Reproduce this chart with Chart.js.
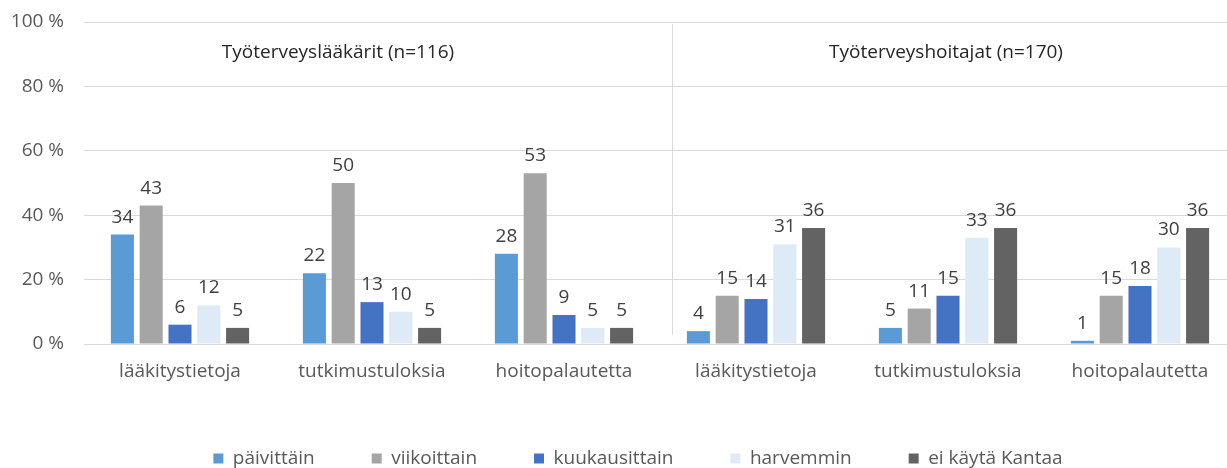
<!DOCTYPE html>
<html>
<head>
<meta charset="utf-8">
<script src="https://cdn.jsdelivr.net/npm/chart.js@4"></script>
<style>
  html, body { margin: 0; padding: 0; overflow: hidden; background: #fff; }
  #wrap { width: 1236px; height: 478px; position: relative; }
</style>
</head>
<body>
<div id="wrap"><canvas id="chart"></canvas></div>
<script>
// categories: three info types, repeated for doctors and nurses
const categories = ['lääkitystietoja', 'tutkimustuloksia', 'hoitopalautetta',
                    'lääkitystietoja', 'tutkimustuloksia', 'hoitopalautetta']
const seriesNames = ['päivittäin', 'viikoittain', 'kuukausittain', 'harvemmin', 'ei käytä Kantaa']
const seriesColors = ['#5B9BD5', '#A5A5A5', '#4472C4', '#DEEBF7', '#636363']

const paivittain    = [34, 22, 28, 4, 5, 1]
const viikoittain   = [43, 50, 53, 15, 11, 15]
const kuukausittain = [6, 13, 9, 14, 15, 18]
const harvemmin     = [12, 10, 5, 31, 33, 30]
const eiKayta       = [5, 5, 5, 36, 36, 36]

const groupTitles = ['Työterveyslääkärit (n=116)', 'Työterveyshoitajat (n=170)']
const yTicks = [0, 20, 40, 60, 80, 100]

const FONT = '"Open Sans", sans-serif'
const TEXT = '#595959'

const seriesValues = [paivittain, viikoittain, kuukausittain, harvemmin, eiKayta]

// numbers above each bar
const barLabels = {
  id: 'barLabels',
  afterDatasetsDraw(chart) {
    const ctx = chart.ctx
    ctx.save()
    ctx.font = '19px ' + FONT
    ctx.fillStyle = '#404040'
    ctx.textAlign = 'center'
    ctx.textBaseline = 'alphabetic'
    chart.data.datasets.forEach((ds, i) => {
      chart.getDatasetMeta(i).data.forEach((bar, j) => {
        ctx.fillText(ds.data[j], bar.x, bar.y - 12)
      })
    })
    ctx.restore()
  }
}

// group titles and the divider between the two groups
const groups = {
  id: 'groups',
  afterLayout(chart) {
    // legend sits a bit right of centre in the original
    chart.legend.left += 20
    chart.legend.right += 20
  },
  afterDraw(chart) {
    const ctx = chart.ctx
    const x = chart.scales.x
    const area = chart.chartArea
    ctx.save()
    const mid = x.getPixelForValue(2.5) + 12
    ctx.strokeStyle = '#D9D9D9'
    ctx.lineWidth = 1
    ctx.beginPath()
    ctx.moveTo(mid + 0.5, area.top + 2)
    ctx.lineTo(mid + 0.5, area.bottom - 9)
    ctx.stroke()
    ctx.font = '19px ' + FONT
    ctx.fillStyle = '#262626'
    ctx.textAlign = 'center'
    ctx.textBaseline = 'middle'
    ctx.fillText(groupTitles[0], x.getPixelForValue(1) - 34, area.top + 31)
    ctx.fillText(groupTitles[1], x.getPixelForValue(4) - 2, area.top + 31)
    ctx.restore()
  }
}

new Chart(document.getElementById('chart'), {
  type: 'bar',
  data: {
    labels: categories,
    datasets: seriesNames.map((name, i) => ({
      label: name,
      data: seriesValues[i],
      backgroundColor: seriesColors[i],
      categoryPercentage: 0.75,
      barPercentage: 0.8
    }))
  },
  options: {
    responsive: true,
    maintainAspectRatio: false,
    animation: false,
    layout: { padding: { top: 22, right: 0, left: 0, bottom: 0 } },
    plugins: {
      legend: {
        position: 'bottom',
        labels: {
          boxWidth: 10, boxHeight: 10, padding: 57,
          color: TEXT, font: { family: FONT, size: 19 }
        }
      },
      tooltip: { enabled: false }
    },
    scales: {
      x: {
        grid: { display: false, drawTicks: false },
        border: { display: false },
        ticks: { color: TEXT, font: { family: FONT, size: 19 }, padding: 16, maxRotation: 0 },
        afterFit(scale) { scale.height = 48 }
      },
      y: {
        min: 0, max: 100,
        afterBuildTicks(scale) { scale.ticks = yTicks.map(v => ({ value: v })) },
        grid: { color: '#D9D9D9', drawTicks: false },
        border: { display: false },
        ticks: { color: TEXT, font: { family: FONT, size: 19 }, padding: 20, callback: v => v + ' %' },
        afterFit(scale) {
          scale.width = 84
          scale.paddingTop = 10
          scale.paddingBottom = 10
        }
      }
    }
  },
  plugins: [barLabels, groups]
})
</script>
</body>
</html>
